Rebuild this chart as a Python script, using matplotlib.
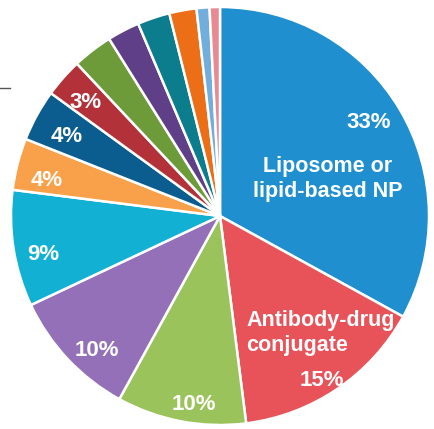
import matplotlib.pyplot as plt

plt.rcParams['font.family'] = ['Liberation Sans', 'DejaVu Sans']

# share of each platform, clockwise from 12 o'clock
shares = [33, 15, 10, 10, 9, 4, 4, 3, 3.1, 2.5, 2.5, 2.1, 1.0, 0.8]
colors = ['#1f8fd0', '#e8535a', '#9bc35b', '#9470b8', '#12b0d3', '#f9a04b',
          '#0b5c8f', '#b3323a', '#6d9b3a', '#5f3f87', '#0b7d8c', '#ec6f17',
          '#72aedc', '#e98a92']
pct_labels = ['33%', '15%', '10%', '10%', '9%', '4%', '4%', '3%',
              '', '', '', '', '', '']
names = ['Liposome or\nlipid-based NP', 'Antibody-drug\nconjugate']

W, H = 434, 429
fig = plt.figure(figsize=(W / 100, H / 100), dpi=100)
ax = fig.add_axes([0, 0, 1, 1])

cx, cy, r = 220, H - 216, 209
ax.pie(shares, colors=colors, startangle=90, counterclock=False,
       center=(cx, cy), radius=r, frame=True,
       wedgeprops=dict(edgecolor='white', linewidth=1.8))
ax.set_xlim(0, W)
ax.set_ylim(0, H)
ax.set_aspect('equal')
ax.axis('off')

# label positions (x, y from top)
pct_pos = [(369, 123), (322, 381), (194, 405), (97, 350), (43, 255),
           (47, 180), (67, 137), (85, 102)]
for (x, y), t in zip(pct_pos, pct_labels):
    ax.text(x, H - y, t, color='white', fontsize=16, fontweight='bold',
            ha='center', va='center')

ax.text(328, H - 179, names[0], color='white', fontsize=15.5,
        fontweight='bold', ha='center', va='center', linespacing=1.25)
ax.text(246, H - 333, names[1], color='white', fontsize=15.5,
        fontweight='bold', ha='left', va='center', linespacing=1.25)

# small dash at the left edge
ax.plot([0, 10], [H - 88, H - 88], color='#555555', linewidth=1)

fig.savefig('out.png', dpi=100)
